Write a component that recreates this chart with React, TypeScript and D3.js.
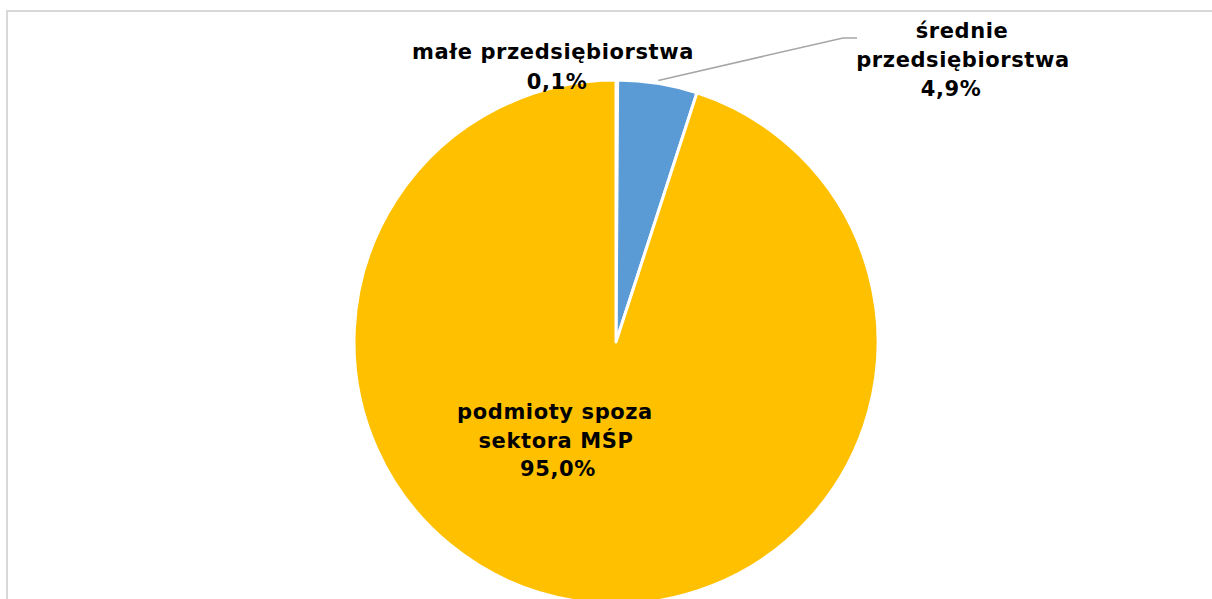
import React from "react";
import * as d3 from "d3";

const categories = ["małe przedsiębiorstwa", "średnie przedsiębiorstwa", "podmioty spoza sektora MŚP"];
const values = [0.1, 4.9, 95.0];
const valueLabels = ["0,1%", "4,9%", "95,0%"];
const colors = ["#ED7D31", "#5B9BD5", "#FFC000"];

const W = 1212;
const H = 599;
const cx = 616;
const cy = 342;
const R = 262;

export default function App() {
  const pie = d3.pie<number>().sort(null).value((d) => d)(values);
  const arc = d3.arc<d3.PieArcDatum<number>>().innerRadius(0).outerRadius(R);
  const font = "'DejaVu Sans', Verdana, sans-serif";
  const fs = 21;

  // leader line for medium slice
  const mid = pie[1];
  const a = mid.startAngle + (mid.endAngle - mid.startAngle) * 0.5;
  const p0 = [cx + (R + 3) * Math.sin(a), cy - (R + 3) * Math.cos(a)];

  return (
    <svg width={W} height={H} style={{ position: "absolute", left: 0, top: 0, background: "#fff" }}>
      <rect x={7} y={11} width={1400} height={800} fill="#fff" stroke="#d9d9d9" strokeWidth={2} />
      <g transform={`translate(${cx},${cy})`}>
        {pie.map((d, i) => (
          <path key={i} d={arc(d) || ""} fill={colors[i]} stroke="#fff" strokeWidth={3} strokeLinejoin="round" />
        ))}
      </g>
      <polyline
        points={`${p0[0]},${p0[1]} 843,38 857,38`}
        fill="none"
        stroke="#a6a6a6"
        strokeWidth={1.5}
      />
      <g fontFamily={font} fontWeight="bold" fontSize={fs} fill="#000" textAnchor="middle" letterSpacing={0.6}>
        <text x={553} y={59}>{categories[0]}</text>
        <text x={557} y={89}>{valueLabels[0]}</text>
        <text x={962} y={38}>średnie</text>
        <text x={963} y={67}>przedsiębiorstwa</text>
        <text x={951} y={96}>{valueLabels[1]}</text>
        <text x={555} y={419}>podmioty spoza</text>
        <text x={556} y={448}>sektora MŚP</text>
        <text x={558} y={476}>{valueLabels[2]}</text>
      </g>
    </svg>
  );
}
